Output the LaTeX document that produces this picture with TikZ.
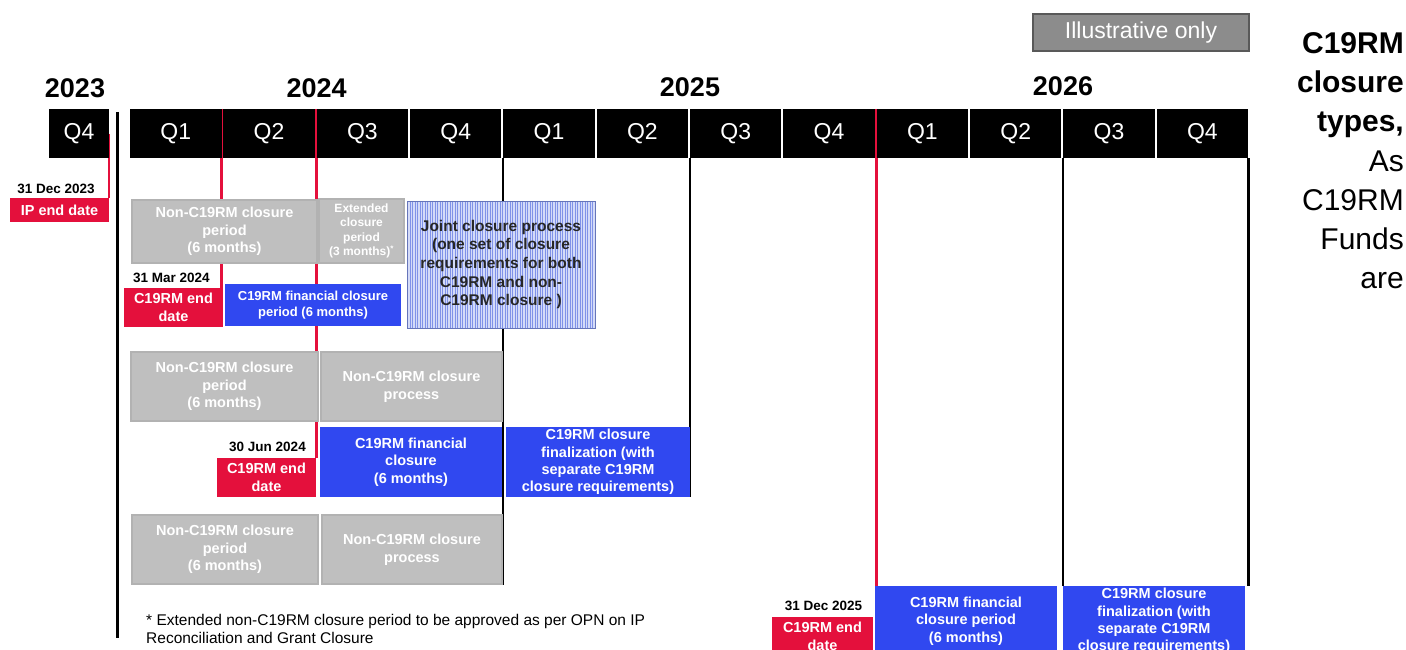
\documentclass[tikz,border=0pt]{standalone}
\usepackage{fontspec}
\setmainfont{Liberation Sans}
\usepackage{tikz}
\usetikzlibrary{backgrounds,patterns.meta}

\definecolor{endred}{RGB}{228,16,60}
\definecolor{finblue}{RGB}{48,72,240}
\definecolor{opengrey}{RGB}{191,191,191}
\definecolor{jointblue}{RGB}{212,219,248}
\definecolor{jointline}{RGB}{128,146,232}
\definecolor{illgrey}{RGB}{140,140,140}

\begin{document}
\begin{tikzpicture}[x=1pt,y=-1pt]
        \tikzstyle{every node} = [rectangle, inner sep=0pt, align=center]
        \tikzstyle{qbox} = [fill=black, text=white, minimum width=91.5pt, minimum height=49pt, font=\fontsize{23}{27}\selectfont]
        \tikzstyle{year} = [font=\fontsize{27}{30}\selectfont\bfseries]
        \tikzstyle{greybox} = [fill=opengrey, draw=black!30, line width=1.2pt, text=white, font=\fontsize{14.5}{17.5}\selectfont\bfseries]
        \tikzstyle{redbox} = [fill=endred, text=white, font=\fontsize{14.5}{18}\selectfont\bfseries]
        \tikzstyle{bluebox} = [fill=finblue, text=white, font=\fontsize{14.5}{17.4}\selectfont\bfseries]
        \tikzstyle{jointbox} = [preaction={fill=jointblue}, pattern={Lines[angle=90,distance=2.5pt,line width=1pt]}, pattern color=jointline, draw=jointline!80!black, text=black!85, font=\fontsize{15.5}{18.7}\selectfont\bfseries]
        \tikzstyle{datelbl} = [font=\fontsize{13.5}{16}\selectfont\bfseries]
        \tikzstyle{sidebold} = [anchor=base east, font=\fontsize{30}{36}\selectfont\bfseries]
        \tikzstyle{sidetext} = [anchor=base east, font=\fontsize{30}{36}\selectfont]
        \tikzstyle{redline} = [endred, line width=2.5pt]
        \tikzstyle{blackline} = [black, line width=2.5pt]

        \useasboundingbox (0,0) rectangle (1406,650);
        \clip (0,0) rectangle (1406,650);

        % quarters and years
        \node[qbox, minimum width=60pt] (q23) at (79,134) {Q4};
        \foreach \k/\q in {0/Q1,1/Q2,2/Q3,3/Q4,4/Q1,5/Q2,6/Q3,7/Q4,8/Q1,9/Q2,10/Q3,11/Q4}
            \node[qbox] (q\k) at ({175.75+93.33*\k},133.5) {\q};
        \node[year] (y2023) at (75,88.5) {2023};
        \node[year] (y2024) at (316.7,88.5) {2024};
        \node[year] (y2025) at (690,87.5) {2025};
        \node[year] (y2026) at (1063,86) {2026};

        \node[fill=illgrey, draw=black!65, line width=1.5pt, minimum width=216pt, minimum height=37pt,
              text=white, font=\fontsize{23}{27}\selectfont] (illus) at (1141,32.5) {Illustrative only};

        % first closure type
        \node[datelbl] (d1) at (56,189) {31 Dec 2023};
        \node[redbox, minimum width=99pt, minimum height=24pt] (ipend) at (59.5,210) {IP end date};
        \node[greybox, minimum width=185pt, minimum height=63pt] (nc1) at (224.5,231.5) {Non-C19RM closure\\period\\(6 months)};
        \node[greybox, minimum width=85pt, minimum height=64pt, font=\fontsize{12}{14.3}\selectfont\bfseries] (ext1) at (361.5,231) {Extended\\closure\\period\\(3 months)\textsuperscript{*}};
        \node[jointbox, minimum width=188pt, minimum height=127pt] (joint) at (501,264.5) {Joint closure process\\(one set of closure\\requirements for both\\C19RM and non-\\C19RM closure )};
        \node[datelbl] (d2) at (171.5,278) {31 Mar 2024};
        \node[redbox, minimum width=99pt, minimum height=39pt] (end1) at (173.5,307.5) {C19RM end\\date};
        \node[bluebox, minimum width=176pt, minimum height=42pt, font=\fontsize{13}{16}\selectfont\bfseries] (fin1) at (313,305) {C19RM financial closure\\period (6 months)};

        % second closure type
        \node[greybox, minimum width=187pt, minimum height=69pt] (nc2) at (224.5,386.5) {Non-C19RM closure\\period\\(6 months)};
        \node[greybox, minimum width=181pt, minimum height=69pt] (proc2) at (411.5,386.5) {Non-C19RM closure\\process};
        \node[datelbl] (d3) at (267.5,447) {30 Jun 2024};
        \node[redbox, minimum width=99pt, minimum height=39pt] (end2) at (266.5,477.5) {C19RM end\\date};
        \node[bluebox, minimum width=182pt, minimum height=70pt] (fin2) at (411,462) {C19RM financial\\closure\\(6 months)};
        \node[bluebox, minimum width=184pt, minimum height=70pt] (final2) at (598,462) {C19RM closure\\finalization (with\\separate C19RM\\closure requirements)};

        % third closure type
        \node[greybox, minimum width=186pt, minimum height=69pt] (nc3) at (225,549.5) {Non-C19RM closure\\period\\(6 months)};
        \node[greybox, minimum width=180pt, minimum height=69pt] (proc3) at (412,549.5) {Non-C19RM closure\\process};
        \node[datelbl] (d4) at (823.5,606) {31 Dec 2025};
        \node[redbox, minimum width=101pt, minimum height=39pt] (end3) at (822.5,636.5) {C19RM end\\date};
        \node[bluebox, minimum width=182pt, minimum height=70pt] (fin3) at (966,621) {C19RM financial\\closure period\\(6 months)};
        \node[bluebox, minimum width=182pt, minimum height=70pt] (final3) at (1154,621) {C19RM closure\\finalization (with\\separate C19RM\\closure requirements)};

        \node[anchor=west, align=left, font=\fontsize{15.5}{18}\selectfont] (note) at (146,629) {* Extended non-C19RM closure period to be approved as per OPN on IP\\Reconciliation and Grant Closure};

        % side text
        \foreach \w/\y [count=\i] in {C19RM/53.5,closure/92.7,{types,}/131.9}
            \node[sidebold] (side\i) at (1404,\y) {\w};
        \foreach \w/\y [count=\i from 4] in {As/171.1,C19RM/210.3,Funds/249.5,are/288.7}
            \node[sidetext] (side\i) at (1404,\y) {\w};

        % date lines behind the boxes
        \begin{scope}[on background layer]
            \fill[white] (0,0) rectangle (1406,650);
            \coordinate (yeartop) at (117,112);
            \coordinate (yearbot) at (117,638);
            \draw[blackline, line width=3pt] (yeartop) -- (yearbot);
            \draw[redline] (q23.east) -- (q23.east |- ipend.north);
            \foreach \from/\to in {q0.north east/end1.north, q2.north west/end2.north, q8.north west/end3.north}
                \draw[redline] (\from) -- (\from |- \to);
            \foreach \from/\to in {q4.south west/proc3.south, q6.south west/final2.south, q10.south west/fin3.north, q11.south east/final3.north}
                \draw[blackline] (\from) -- (\from |- \to);
        \end{scope}
    \end{tikzpicture}
\end{document}
